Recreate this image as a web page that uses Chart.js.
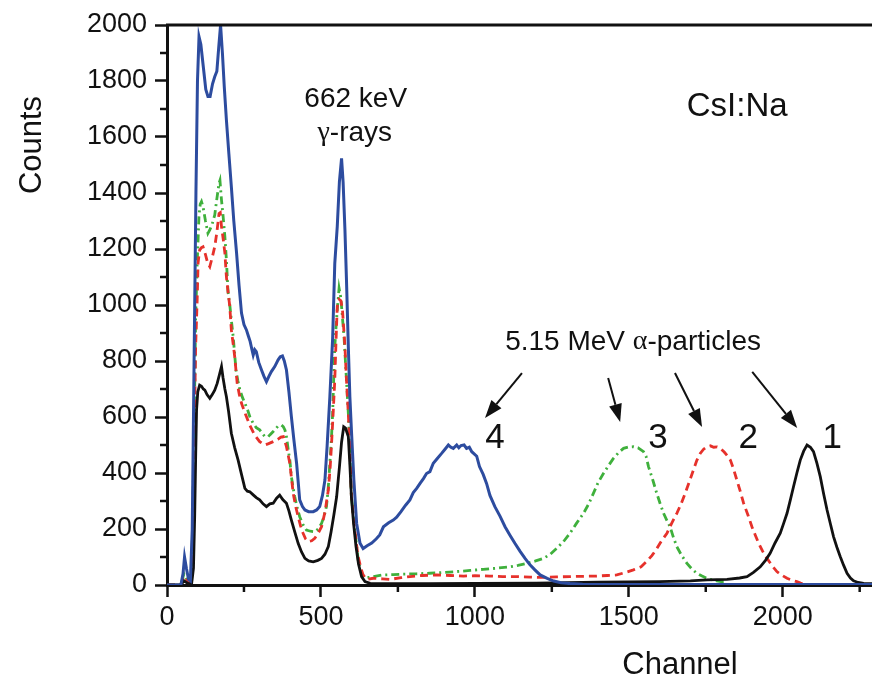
<!DOCTYPE html>
<html>
<head>
<meta charset="utf-8">
<script src="https://cdn.jsdelivr.net/npm/chart.js@4.4.1/dist/chart.umd.min.js"></script>
<style>
html,body{margin:0;padding:0;background:#fff;}
#wrap{width:872px;height:689px;position:relative;}
</style>
</head>
<body>
<div id="wrap"><canvas id="c" width="872" height="689"></canvas></div>
<script>
// ---- Data ----
const blueCh  = [0,20,45,52,57,63,70,76,82,88,94,99,104,110,118,126,133,140,148,155,162,168,174,180,186,193,201,209,217,226,234,242,250,258,264,270,276,280,285,290,298,307,315,323,331,339,350,361,368,375,381,388,396,404,412,421,426,431,440,448,460,475,486,496,505,513,520,529,538,545,553,560,567,572,578,583,589,594,599,607,616,627,637,650,665,680,691,703,720,735,746,760,775,789,800,811,822,833,843,854,865,878,892,903,914,922,930,941,948,955,965,973,982,990,1006,1015,1027,1038,1049,1065,1082,1098,1114,1130,1147,1163,1179,1195,1212,1235,1256,1280,1309,1350,1418,1600,1800,2000,2150,2290];
const blueCnt = [0,0,0,40,100,60,20,15,200,800,1400,1800,1958,1930,1850,1770,1745,1745,1790,1815,1835,1920,2000,1900,1780,1660,1540,1423,1300,1185,1070,971,930,911,890,870,840,821,840,833,795,768,745,726,745,762,780,804,815,818,800,768,690,601,520,434,370,304,280,268,262,262,268,280,320,375,494,672,880,1149,1280,1440,1524,1440,1268,1089,851,672,554,375,220,149,130,140,150,165,179,208,222,232,242,262,285,304,330,345,363,380,398,405,435,452,470,485,500,492,488,500,490,498,500,488,492,476,460,423,395,363,320,280,245,208,178,149,120,95,72,54,36,24,14,8,5,3,2,2,2,2,2,2];

const blackCh  = [0,45,55,62,70,80,86,90,93,96,100,106,112,118,123,130,139,147,155,163,170,177,182,188,193,200,209,220,231,242,253,261,269,280,290,301,312,323,334,345,356,366,376,388,396,404,415,426,437,448,460,475,490,502,513,524,533,542,551,560,567,574,580,589,594,599,606,614,622,632,643,660,700,850,1000,1200,1400,1600,1700,1754,1819,1860,1884,1905,1927,1944,1959,1975,1992,2003,2014,2025,2035,2046,2057,2068,2079,2090,2100,2111,2122,2133,2144,2155,2165,2176,2187,2198,2209,2220,2230,2245,2263,2290];
const blackCnt = [0,0,15,10,5,5,60,250,450,625,690,714,710,700,696,680,667,680,696,720,750,780,740,700,672,620,542,490,446,395,345,335,333,322,312,304,290,280,290,292,310,321,305,292,265,232,190,149,118,95,86,83,88,95,110,137,190,250,315,420,510,565,560,530,430,315,220,137,75,30,12,6,5,5,6,7,10,12,15,18,20,25,30,45,65,88,113,150,185,220,256,305,351,400,446,478,500,492,476,435,387,325,268,218,173,135,101,70,42,25,15,9,6,5];

const redCh  = [0,45,55,62,70,80,88,93,98,101,106,112,117,125,132,139,147,155,162,169,173,177,182,188,193,198,204,209,215,220,228,235,242,255,269,285,301,310,318,330,345,360,370,378,388,399,410,418,426,434,442,450,458,470,480,491,502,513,524,530,534,540,545,549,553,559,565,570,578,583,589,594,599,605,610,616,621,630,637,648,670,700,724,760,789,830,876,920,963,1000,1049,1090,1136,1180,1223,1265,1309,1350,1396,1430,1461,1490,1515,1540,1559,1575,1590,1605,1624,1640,1656,1670,1683,1697,1710,1721,1732,1743,1754,1765,1776,1787,1797,1810,1820,1830,1840,1851,1862,1873,1887,1900,1911,1922,1935,1949,1965,1981,1997,2014,2030,2046,2058,2070];
const redCnt = [0,0,30,20,10,10,500,850,1018,1150,1196,1205,1208,1180,1150,1137,1170,1208,1260,1327,1330,1280,1240,1185,1100,1050,994,911,860,815,720,680,649,610,570,535,512,505,500,505,512,520,528,530,494,434,327,280,244,210,185,165,155,158,167,185,208,260,339,420,494,620,732,870,994,1020,1015,982,851,732,610,494,315,250,196,140,101,60,36,20,24,22,20,26,30,34,36,34,32,33,32,30,30,28,27,29,30,31,32,34,36,45,54,65,85,105,128,155,185,222,256,290,327,370,411,445,470,485,494,497,492,493,488,475,462,446,415,375,335,292,250,208,178,149,120,95,70,48,35,24,17,12,7,3];

const greenCh  = [0,45,55,62,70,80,88,93,98,104,108,112,117,125,133,139,147,155,162,169,172,177,182,188,193,198,204,209,215,224,230,237,245,253,262,269,280,290,301,312,318,329,334,345,361,372,378,383,388,394,399,404,410,415,423,431,442,453,466,480,491,502,510,518,524,529,534,538,541,545,549,553,559,564,567,571,575,579,583,589,594,599,605,610,616,621,627,632,643,656,670,702,735,768,810,854,900,941,985,1027,1070,1114,1140,1168,1195,1223,1245,1266,1288,1309,1330,1353,1370,1385,1400,1418,1435,1450,1466,1483,1500,1515,1530,1548,1556,1564,1578,1591,1602,1613,1624,1634,1645,1656,1672,1689,1705,1721,1738,1754,1770,1786,1800,1819];
const greenCnt = [0,0,40,25,10,10,550,950,1150,1320,1360,1369,1351,1300,1256,1268,1290,1321,1380,1435,1445,1375,1320,1244,1161,1050,1000,946,887,768,730,696,670,649,625,601,577,562,554,538,530,530,536,548,568,571,565,554,530,482,446,387,345,315,275,244,215,196,192,190,200,220,245,280,350,434,520,613,720,851,920,982,1060,1030,994,940,887,810,732,613,482,315,250,196,140,89,60,42,24,27,30,36,37,39,40,42,45,48,52,56,60,65,70,77,85,95,110,131,155,185,220,256,290,327,365,399,428,452,472,488,493,494,490,476,460,423,375,327,290,256,230,208,170,137,105,77,57,42,32,24,18,15,12,12];

const yTicks = [0,200,400,600,800,1000,1200,1400,1600,1800,2000];
const xTicks = [0,500,1000,1500,2000];

// ---- Annotation text (positions in data units) ----
const notes = [
  {parts:[['662 keV','sans']], x:613, y:1736, size:28},
  {parts:[['γ','serif'],['-rays','sans']], x:610, y:1614, size:28},
  {parts:[['CsI:Na','sans']], x:1852, y:1707, size:33},
  {parts:[['5.15 MeV ','sans'],['α','serif'],['-particles','sans']], x:1514, y:868, size:28},
  {parts:[['4','sans']], x:1065, y:525, size:35},
  {parts:[['3','sans']], x:1595, y:525, size:35},
  {parts:[['2','sans']], x:1888, y:525, size:35},
  {parts:[['1','sans']], x:2161, y:525, size:35}
];
const arrows = [
  [1153,757,1033,596],
  [1433,739,1472,582],
  [1650,757,1738,564],
  [1901,761,2047,561]
];

const SANS = '"Liberation Sans", Arial, Helvetica, sans-serif';
const SERIF = '"Liberation Serif", "Times New Roman", serif';

function pts(xs, ys){ return xs.map((v,i)=>({x:v,y:ys[i]})); }

const overlay = {
  id:'overlay',
  afterDraw(chart){
    const ctx = chart.ctx, a = chart.chartArea;
    const xs = chart.scales.x, ys = chart.scales.y;
    ctx.save();
    ctx.strokeStyle = '#111'; ctx.lineWidth = 3; ctx.lineCap='butt';
    ctx.beginPath(); ctx.moveTo(a.left-1, a.top); ctx.lineTo(a.right, a.top); ctx.stroke();
    ctx.lineWidth = 2.5;
    for(let v=100; v<2000; v+=200){
      const p = ys.getPixelForValue(v);
      ctx.beginPath(); ctx.moveTo(a.left, p); ctx.lineTo(a.left-7, p); ctx.stroke();
    }
    for(let v=250; v<=2250; v+=500){
      const p = xs.getPixelForValue(v);
      ctx.beginPath(); ctx.moveTo(p, a.bottom); ctx.lineTo(p, a.bottom+7); ctx.stroke();
    }
    ctx.fillStyle = '#111';
    ctx.font = '31px ' + SANS;
    ctx.textAlign = 'center'; ctx.textBaseline = 'middle';
    ctx.fillText('Channel', 680, 665);
    ctx.save(); ctx.translate(32, 145); ctx.rotate(-Math.PI/2);
    ctx.fillText('Counts', 0, 0); ctx.restore();
    ctx.textAlign = 'left';
    notes.forEach(n=>{
      const cx = xs.getPixelForValue(n.x), cy = ys.getPixelForValue(n.y);
      let w = 0;
      const segs = n.parts.map(([t,f])=>{
        const font = n.size+'px ' + (f==='serif'? SERIF : SANS);
        ctx.font = font; const m = ctx.measureText(t).width; w += m;
        return {t,font,m};
      });
      let x = cx - w/2;
      segs.forEach(s=>{ ctx.font = s.font; ctx.fillText(s.t, x, cy); x += s.m; });
    });
    ctx.strokeStyle = '#111'; ctx.fillStyle='#111'; ctx.lineWidth = 2;
    arrows.forEach(([x1,y1,x2,y2])=>{
      const p1x = xs.getPixelForValue(x1), p1y = ys.getPixelForValue(y1);
      const p2x = xs.getPixelForValue(x2), p2y = ys.getPixelForValue(y2);
      const ang = Math.atan2(p2y-p1y, p2x-p1x);
      const L = 18, W = 6.5;
      const bx = p2x - L*Math.cos(ang), by = p2y - L*Math.sin(ang);
      ctx.beginPath(); ctx.moveTo(p1x,p1y); ctx.lineTo(bx,by); ctx.stroke();
      ctx.beginPath();
      ctx.moveTo(p2x,p2y);
      ctx.lineTo(bx + W*Math.sin(ang), by - W*Math.cos(ang));
      ctx.lineTo(bx - W*Math.sin(ang), by + W*Math.cos(ang));
      ctx.closePath(); ctx.fill();
    });
    ctx.restore();
  }
};

Chart.defaults.font.family = SANS;
Chart.defaults.color = '#111';

new Chart(document.getElementById('c'), {
  type:'line',
  data:{
    datasets:[
      {label:'4', data:pts(blueCh,blueCnt), borderColor:'#2d4c9f', borderWidth:3, order:0},
      {label:'1', data:pts(blackCh,blackCnt), borderColor:'#111111', borderWidth:2.8, order:1},
      {label:'2', data:pts(redCh,redCnt), borderColor:'#e6312b', borderWidth:2.8, borderDash:[8,5], order:2},
      {label:'3', data:pts(greenCh,greenCnt), borderColor:'#3fb03c', borderWidth:2.8, borderDash:[8,4,2,4], order:3}
    ]
  },
  options:{
    responsive:false,
    animation:false,
    layout:{padding:{top:25,right:0,left:0,bottom:0}},
    elements:{point:{radius:0}, line:{tension:0, fill:false}},
    plugins:{legend:{display:false}, tooltip:{enabled:false}},
    scales:{
      x:{
        type:'linear', min:0, max:2290,
        afterBuildTicks:(s)=>{ s.ticks = xTicks.map(v=>({value:v})); },
        afterFit:(s)=>{ s.height = 104; },
        ticks:{font:{size:27}, padding:4, maxRotation:0, color:'#111', callback:(v)=>String(v)},
        grid:{drawOnChartArea:false, drawTicks:true, tickLength:12, tickWidth:2.5, tickColor:'#111'},
        border:{color:'#111', width:3}
      },
      y:{
        type:'linear', min:0, max:2000,
        afterBuildTicks:(s)=>{ s.ticks = yTicks.map(v=>({value:v})); },
        afterFit:(s)=>{ s.width = 167; },
        ticks:{font:{size:27}, padding:8, color:'#111', callback:(v)=>String(v)},
        grid:{drawOnChartArea:false, drawTicks:true, tickLength:12, tickWidth:2.5, tickColor:'#111'},
        border:{color:'#111', width:3}
      }
    }
  },
  plugins:[overlay]
});
</script>
</body>
</html>
